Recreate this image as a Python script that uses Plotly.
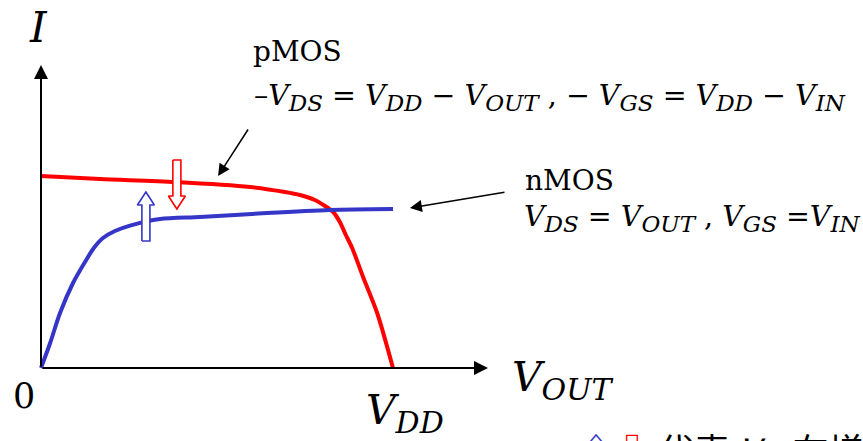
import plotly.graph_objects as go

# Output voltage normalised to V_DD, drain current in arbitrary units
pmos_vout = [0.0, 0.168, 0.381, 0.594, 0.693, 0.736, 0.778, 0.807, 0.830, 0.849, 0.866, 0.884, 0.915, 0.955, 1.0]
pmos_i = [0.96, 0.945, 0.93, 0.905, 0.88, 0.865, 0.84, 0.81, 0.78, 0.73, 0.665, 0.60, 0.455, 0.275, 0.0]

nmos_vout = [0.0, 0.026, 0.054, 0.091, 0.125, 0.150, 0.176, 0.210, 0.253, 0.338, 0.452, 0.642, 0.821, 1.0]
nmos_i = [0.0, 0.125, 0.275, 0.425, 0.53, 0.60, 0.65, 0.685, 0.712, 0.745, 0.755, 0.775, 0.79, 0.795]

# Hollow block arrows showing how each curve moves as V_IN rises
# (x position, tail current, tip current)
pmos_shift = (0.386, 1.04, 0.795)
nmos_shift = (0.298, 0.635, 0.88)

RED = "#ff0000"
BLUE = "#3535c8"
SERIF = "DejaVu Serif"

W, H = 863, 441
X0, Y0 = 41, 368      # origin on the page
SX, SY = 352, 200     # pixels per unit of V_OUT / I


def block_arrow(x, y_tail, y_tip, shaft=0.0114, head=0.024, head_len=0.065):
    d = 1 if y_tip > y_tail else -1
    yb = y_tip - d * head_len
    xs = [x - shaft, x - shaft, x - head, x, x + head, x + shaft, x + shaft, x - shaft]
    ys = [y_tail, yb, yb, y_tip, yb, yb, y_tail, y_tail]
    return xs, ys


fig = go.Figure()

fig.add_trace(go.Scatter(x=pmos_vout, y=pmos_i, mode="lines",
                         line=dict(color=RED, width=4, shape="spline", smoothing=0.8),
                         hoverinfo="skip"))
fig.add_trace(go.Scatter(x=nmos_vout, y=nmos_i, mode="lines",
                         line=dict(color=BLUE, width=4, shape="spline", smoothing=0.8),
                         hoverinfo="skip"))

for (x, yt, yp), col in ((pmos_shift, RED), (nmos_shift, BLUE)):
    xs, ys = block_arrow(x, yt, yp)
    fig.add_trace(go.Scatter(x=xs, y=ys, mode="lines", fill="toself",
                             fillcolor="white", line=dict(color=col, width=1.6),
                             hoverinfo="skip"))


def px(p):
    return p / W


def py(p):
    return 1 - p / H


ann = []

# Axes with arrow heads
ann.append(dict(x=(488 - X0) / SX, y=0, ax=0, ay=0, xref="x", yref="y", axref="x", ayref="y",
                showarrow=True, arrowhead=2, arrowsize=1.4, arrowwidth=2, arrowcolor="black", text=""))
ann.append(dict(x=0, y=(Y0 - 65) / SY, ax=0, ay=0, xref="x", yref="y", axref="x", ayref="y",
                showarrow=True, arrowhead=2, arrowsize=1.4, arrowwidth=2, arrowcolor="black", text=""))

# Pointers to the two curves
ann.append(dict(x=0.503, y=0.96, ax=0.591, ay=1.20, xref="x", yref="y", axref="x", ayref="y",
                showarrow=True, arrowhead=2, arrowsize=1.6, arrowwidth=1.5, arrowcolor="black", text=""))
ann.append(dict(x=1.048, y=0.80, ax=1.321, ay=0.88, xref="x", yref="y", axref="x", ayref="y",
                showarrow=True, arrowhead=2, arrowsize=1.6, arrowwidth=1.5, arrowcolor="black", text=""))


def label(text, x, y, size, xanchor="left", yanchor="top", color="black", family=SERIF):
    ann.append(dict(text=text, x=px(x), y=py(y), xref="paper", yref="paper",
                    xanchor=xanchor, yanchor=yanchor, showarrow=False,
                    font=dict(family=family, size=size, color=color)))


def v(sub, s=None):
    inner = f"<i>{sub}</i>" if s is None else f"<span style='font-size:{s}px'><i>{sub}</i></span>"
    return f"<i>V</i><sub>{inner}</sub>"


label("<i>I</i>", 38, 1, 42, xanchor="center")
label("0", 24, 374, 35, xanchor="center")
label(v("DD", 30), 364, 384, 41)
label(v("OUT", 30), 510, 351, 41)

S1 = 23
label("pMOS", 251, 33, 28)
label(f"–{v('DS', S1)} = {v('DD', S1)} − {v('OUT', S1)} , − {v('GS', S1)} = {v('DD', S1)} − {v('IN', S1)}",
      252, 77, 28.5)

label("nMOS", 523, 162, 28)
label(f"{v('DS', S1)} = {v('OUT', S1)} , {v('GS', S1)} ={v('IN', S1)}", 522, 198, 28.5)

label(f"<span style='color:{BLUE}'>⇧</span><span style='color:{RED}'>⇩</span> 代表 <i>V</i><sub><i>IN</i></sub> 在增加时",
      576, 421, 36, family="Noto Sans CJK SC")

fig.update_layout(
    width=W, height=H,
    margin=dict(l=0, r=0, t=0, b=0),
    paper_bgcolor="white", plot_bgcolor="white",
    showlegend=False,
    xaxis=dict(range=[-X0 / SX, (W - X0) / SX], visible=False, fixedrange=True),
    yaxis=dict(range=[(Y0 - H) / SY, Y0 / SY], visible=False, fixedrange=True),
    annotations=ann,
)

fig.write_html("out.html")
